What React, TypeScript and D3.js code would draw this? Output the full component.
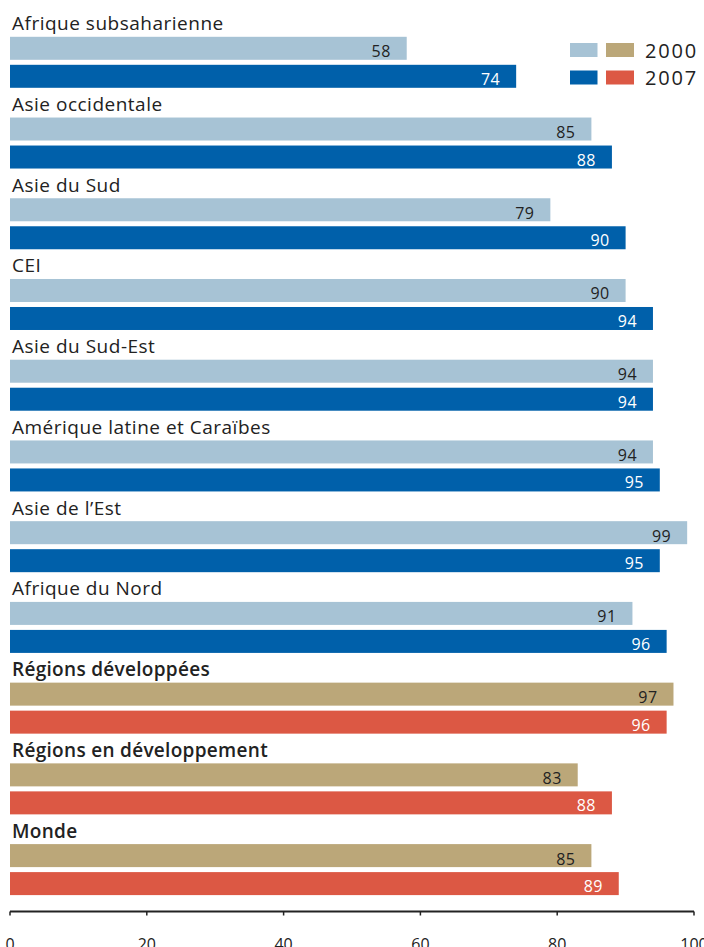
import React from "react";
import * as d3 from "d3";

const categories = [
  "Afrique subsaharienne",
  "Asie occidentale",
  "Asie du Sud",
  "CEI",
  "Asie du Sud-Est",
  "Amérique latine et Caraïbes",
  "Asie de l’Est",
  "Afrique du Nord",
  "Régions développées",
  "Régions en développement",
  "Monde",
];
const values2000 = [58, 85, 79, 90, 94, 94, 99, 91, 97, 83, 85];
const values2007 = [74, 88, 90, 94, 94, 95, 95, 96, 96, 88, 89];
const aggregateGroups = ["Régions développées", "Régions en développement", "Monde"];
const xTicks = [0, 20, 40, 60, 80, 100];
const legendYears = ["2000", "2007"];

const W = 704;
const H = 947;
const FONT = "'Open Sans', 'DejaVu Sans', sans-serif";
const C_LIGHT = "#a7c3d5";
const C_DARK = "#0060aa";
const C_TAN = "#bba779";
const C_RED = "#dc5844";
const TEXT = "#222";

export default function App() {
  const x = d3.scaleLinear().domain([0, 100]).range([10, 694]);
  const step = 80.73;
  const y = d3
    .scaleBand<string>()
    .domain(categories)
    .range([7.5, 7.5 + step * categories.length])
    .paddingInner(0)
    .paddingOuter(0);
  const barH = 23;
  const off1 = 29.3;
  const off2 = off1 + 28;
  const axisY = 911.5;

  return (
    <svg
      width={W}
      height={H}
      style={{ position: "absolute", left: 0, top: 0, background: "#fff" }}
      fontFamily={FONT}
    >
      {categories.map((c, i) => {
        const agg = aggregateGroups.includes(c);
        const top = y(c) as number;
        const b1 = top + off1;
        const b2 = top + off2;
        const v1 = values2000[i];
        const v2 = values2007[i];
        return (
          <g key={c}>
            <text
              x={12}
              y={b1 - 6.5}
              fontSize={19}
              fontWeight={agg ? 600 : 400}
              letterSpacing={agg ? 0.3 : 0.5}
              fill={TEXT}
            >
              {c}
            </text>
            <rect x={x(0)} y={b1} width={x(v1) - x(0)} height={barH} fill={agg ? C_TAN : C_LIGHT} />
            <rect x={x(0)} y={b2} width={x(v2) - x(0)} height={barH} fill={agg ? C_RED : C_DARK} />
            <text x={x(v1) - 16} y={b1 + 20.5} fontSize={16} letterSpacing={0.4} textAnchor="end" fill={TEXT}>
              {v1}
            </text>
            <text x={x(v2) - 16} y={b2 + 20} fontSize={16} letterSpacing={0.4} textAnchor="end" fill="#fff">
              {v2}
            </text>
          </g>
        );
      })}

      {/* legend */}
      {legendYears.map((yr, i) => {
        const ly = 43 + i * 27.5;
        return (
          <g key={yr}>
            <rect x={570} y={ly} width={27.5} height={14} fill={i === 0 ? C_LIGHT : C_DARK} />
            <rect x={606} y={ly} width={28} height={14} fill={i === 0 ? C_TAN : C_RED} />
            <text x={645} y={ly + 14.5} fontSize={20} letterSpacing={1.8} fill={TEXT}>
              {yr}
            </text>
          </g>
        );
      })}

      {/* axis */}
      <line x1={x(0)} x2={x(100)} y1={axisY} y2={axisY} stroke={TEXT} strokeWidth={2} />
      {xTicks.map((t) => (
        <g key={t}>
          <line x1={x(t)} x2={x(t)} y1={axisY} y2={axisY + 4} stroke={TEXT} strokeWidth={1.5} />
          <text x={x(t)} y={950} fontSize={16} textAnchor="middle" fill={TEXT}>
            {t}
          </text>
        </g>
      ))}
    </svg>
  );
}
